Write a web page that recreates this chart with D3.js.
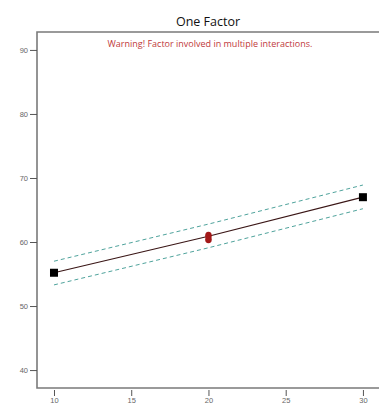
<!DOCTYPE html>
<html>
<head>
<meta charset="utf-8">
<script src="https://cdn.jsdelivr.net/npm/d3@7"></script>
<style>
  body { margin: 0; background: #fff; }
  svg { display: block; font-family: "Open Sans", "Segoe UI", sans-serif; }
</style>
</head>
<body>
<div id="chart"></div>
<script>
// fitted line and 95% CI at three factor levels
const factorX = [10, 20, 30]
const predicted = [55.2, 60.9, 67.0]
const ciLower = [53.3, 59.1, 65.2]
const ciUpper = [57.0, 62.8, 68.9]
// endpoints shown as squares, design points at center
const endX = [10, 30]
const endY = [55.2, 67.0]
const designX = [20, 20]
const designY = [61.0, 60.4]
const xTicks = [10, 15, 20, 25, 30]
const yTicks = [40, 50, 60, 70, 80, 90]

const width = 379
const height = 405
const margin = {top: 32, right: 0, bottom: 17, left: 37}

const svg = d3.select("#chart")
    .append("svg")
    .attr("width", width)
    .attr("height", height)

const x = d3.scaleLinear()
    .domain([8.9, 31.04])
    .range([margin.left, width - margin.right])

const y = d3.scaleLinear()
    .domain([37.2, 92.8])
    .range([height - margin.bottom, margin.top])

// frame: top, left, bottom
svg.append("path")
    .attr("d", `M${width},${margin.top}H${margin.left}V${height - margin.bottom}H${width}`)
    .attr("fill", "none")
    .attr("stroke", "#7a7a7a")
    .attr("stroke-width", 1.6)

const yAxis = svg.append("g")
    .attr("transform", `translate(${margin.left},0)`)
    .call(d3.axisLeft(y).tickValues(yTicks).tickSize(7).tickPadding(2))
yAxis.select(".domain").remove()
yAxis.selectAll("line").attr("stroke", "#555")
yAxis.selectAll("text").attr("fill", "#666").style("font-size", "7.5px")

const xAxis = svg.append("g")
    .attr("transform", `translate(0,${height - margin.bottom + 2})`)
    .call(d3.axisBottom(x).tickValues(xTicks).tickSize(6).tickPadding(2))
xAxis.select(".domain").remove()
xAxis.selectAll("line").attr("stroke", "#555")
xAxis.selectAll("text").attr("fill", "#666").style("font-size", "7.5px")

const line = d3.line()
    .x((d, i) => x(factorX[i]))
    .y(d => y(d))

svg.append("path")
    .datum(ciUpper)
    .attr("d", line)
    .attr("fill", "none")
    .attr("stroke", "#4fa39c")
    .attr("stroke-width", 1)
    .attr("stroke-dasharray", "4,3")

svg.append("path")
    .datum(ciLower)
    .attr("d", line)
    .attr("fill", "none")
    .attr("stroke", "#4fa39c")
    .attr("stroke-width", 1)
    .attr("stroke-dasharray", "4,3")

svg.append("path")
    .datum(predicted)
    .attr("d", line)
    .attr("fill", "none")
    .attr("stroke", "#3a1616")
    .attr("stroke-width", 1.2)

svg.append("g")
    .selectAll("rect")
    .data(endX)
    .join("rect")
    .attr("x", d => x(d) - 4)
    .attr("y", (d, i) => y(endY[i]) - 4)
    .attr("width", 8)
    .attr("height", 8)
    .attr("fill", "#000")

svg.append("g")
    .selectAll("ellipse")
    .data(designX)
    .join("ellipse")
    .attr("cx", d => x(d))
    .attr("cy", (d, i) => y(designY[i]))
    .attr("rx", 3.3)
    .attr("ry", 3.8)
    .attr("fill", "#a31818")

svg.append("text")
    .attr("x", 208)
    .attr("y", 26)
    .attr("text-anchor", "middle")
    .attr("fill", "#111")
    .style("font-size", "12.5px")
    .text("One Factor")

svg.append("text")
    .attr("x", 210)
    .attr("y", 47)
    .attr("text-anchor", "middle")
    .attr("fill", "#c0393b")
    .style("font-size", "9px")
    .text("Warning! Factor involved in multiple interactions.")
</script>
</body>
</html>
